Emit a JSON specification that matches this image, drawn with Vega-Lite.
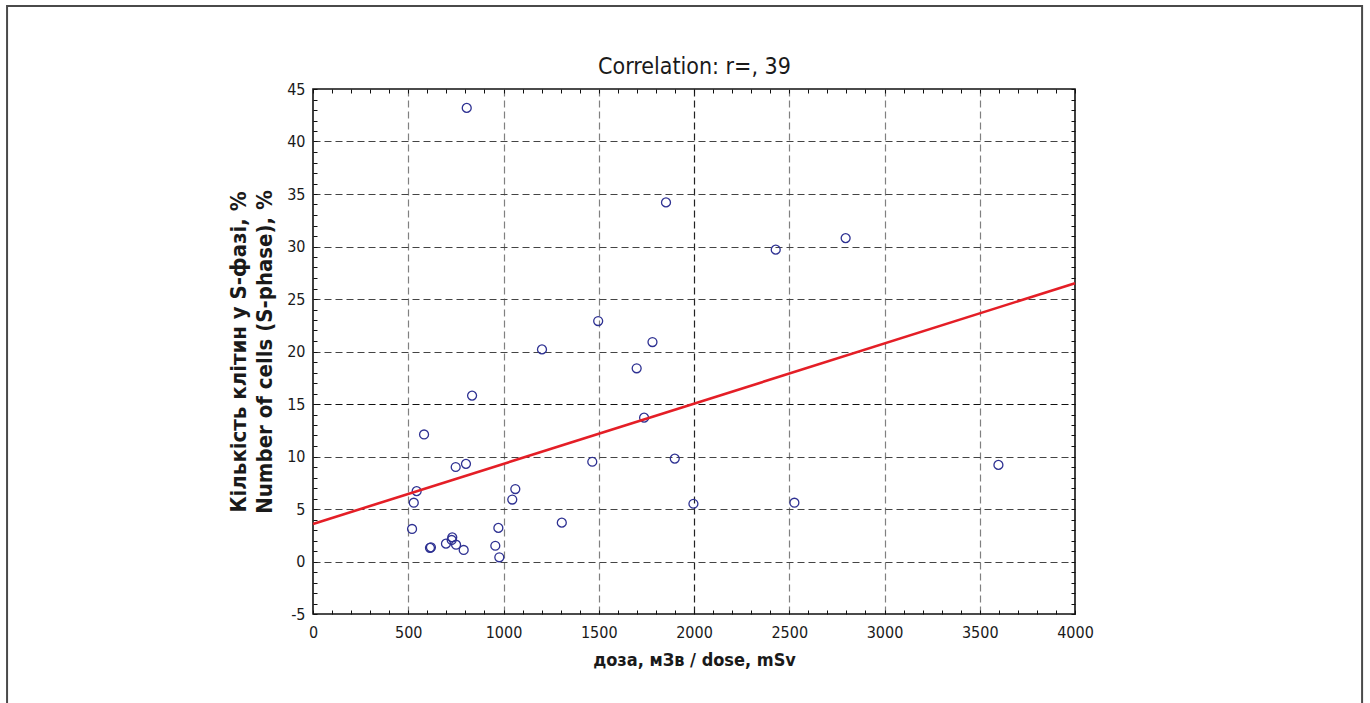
{
  "$schema": "https://vega.github.io/schema/vega-lite/v6.json",
  "width": 762,
  "height": 525,
  "autosize": {"type": "none"},
  "padding": {"left": 313, "top": 89, "right": 295, "bottom": 89},
  "background": "white",
  "datasets": {
    "points": [
      {"dose": 807, "cells": 43.2},
      {"dose": 1853, "cells": 34.2},
      {"dose": 2429, "cells": 29.7},
      {"dose": 2796, "cells": 30.8},
      {"dose": 1497, "cells": 22.9},
      {"dose": 1782, "cells": 20.9},
      {"dose": 1202, "cells": 20.2},
      {"dose": 1699, "cells": 18.4},
      {"dose": 835, "cells": 15.8},
      {"dose": 1738, "cells": 13.7},
      {"dose": 583, "cells": 12.1},
      {"dose": 1899, "cells": 9.8},
      {"dose": 1466, "cells": 9.5},
      {"dose": 3598, "cells": 9.2},
      {"dose": 803, "cells": 9.3},
      {"dose": 749, "cells": 9.0},
      {"dose": 1062, "cells": 6.9},
      {"dose": 544, "cells": 6.7},
      {"dose": 1046, "cells": 5.9},
      {"dose": 529, "cells": 5.6},
      {"dose": 1997, "cells": 5.5},
      {"dose": 2527, "cells": 5.6},
      {"dose": 1306, "cells": 3.7},
      {"dose": 973, "cells": 3.2},
      {"dose": 520, "cells": 3.1},
      {"dose": 731, "cells": 2.3},
      {"dose": 728, "cells": 2.05},
      {"dose": 698, "cells": 1.7},
      {"dose": 751, "cells": 1.6},
      {"dose": 957, "cells": 1.5},
      {"dose": 619, "cells": 1.35},
      {"dose": 614, "cells": 1.3},
      {"dose": 791, "cells": 1.1},
      {"dose": 978, "cells": 0.4}
    ],
    "fit": [
      {"dose": 0, "cells": 3.57},
      {"dose": 4000, "cells": 26.5}
    ]
  },
  "layer": [
    {
      "data": {"values": [{}]},
      "mark": {"type": "rect", "fill": null, "fillOpacity": 0, "stroke": "#4a4a4a", "strokeWidth": 2},
      "encoding": {
        "x": {"datum": -1606, "type": "quantitative", "axis": null, "scale": {"domain": [0, 4000], "nice": false, "zero": false}},
        "x2": {"datum": 5507},
        "y": {"datum": 52.9, "type": "quantitative", "axis": null, "scale": {"domain": [-5, 45], "nice": false, "zero": false}},
        "y2": {"datum": -16}
      }
    },
    {
      "data": {"name": "points"},
      "mark": {"type": "point", "shape": "circle", "filled": false, "stroke": "#2e3192", "strokeWidth": 1.3, "size": 80, "opacity": 1},
      "encoding": {
        "x": {
          "field": "dose",
          "type": "quantitative",
          "scale": {"domain": [0, 4000], "nice": false, "zero": false},
          "axis": {
            "orient": "bottom",
            "values": [0,100,200,300,400,500,600,700,800,900,1000,1100,1200,1300,1400,1500,1600,1700,1800,1900,2000,2100,2200,2300,2400,2500,2600,2700,2800,2900,3000,3100,3200,3300,3400,3500,3600,3700,3800,3900,4000],
            "labelExpr": "datum.value % 500 === 0 ? '' + datum.value : ''",
            "labelOverlap": false,
            "labelFlush": false,
            "labelFont": "'DejaVu Sans Condensed', 'Liberation Sans', sans-serif",
            "labelFontSize": 16,
            "labelColor": "#1a1a1a",
            "labelPadding": 14,
            "tickSize": -4,
            "tickColor": "#111",
            "tickWidth": 1,
            "domain": false,
            "grid": true,
            "gridColor": {"condition": {"test": "datum.value === 2000", "value": "#222"}, "value": "#808080"},
            "gridOpacity": {"condition": {"test": "datum.value % 500 !== 0 || datum.value === 0 || datum.value === 4000", "value": 0}, "value": 1},
            "gridDash": [7, 4],
            "gridWidth": 1.2,
            "title": "доза, мЗв / dose, mSv",
            "titleFont": "'DejaVu Sans Condensed', 'Liberation Sans', sans-serif",
            "titleFontSize": 18,
            "titleFontWeight": "bold",
            "titleColor": "#1a1a1a",
            "titlePadding": 11
          }
        },
        "y": {
          "field": "cells",
          "type": "quantitative",
          "scale": {"domain": [-5, 45], "nice": false, "zero": false},
          "axis": {
            "orient": "left",
            "values": [-5,-4,-3,-2,-1,0,1,2,3,4,5,6,7,8,9,10,11,12,13,14,15,16,17,18,19,20,21,22,23,24,25,26,27,28,29,30,31,32,33,34,35,36,37,38,39,40,41,42,43,44,45],
            "labelExpr": "datum.value % 5 === 0 ? '' + datum.value : ''",
            "labelOverlap": false,
            "labelFlush": false,
            "labelFont": "'DejaVu Sans Condensed', 'Liberation Sans', sans-serif",
            "labelFontSize": 16,
            "labelColor": "#1a1a1a",
            "labelPadding": 12,
            "tickSize": -4,
            "tickColor": "#111",
            "tickWidth": 1,
            "domain": false,
            "grid": true,
            "gridColor": {"condition": {"test": "datum.value === 15", "value": "#111"}, "value": "#444"},
            "gridOpacity": {"condition": {"test": "datum.value % 5 !== 0 || datum.value === -5 || datum.value === 45", "value": 0}, "value": 1},
            "gridDash": [7, 4],
            "gridWidth": 1.2,
            "title": ["Кількість клітин у S-фазі, %", "Number of cells (S-phase), %"],
            "titleFont": "'DejaVu Sans Condensed', 'Liberation Sans', sans-serif",
            "titleFontSize": 22,
            "titleFontWeight": "bold",
            "titleColor": "#1a1a1a",
            "titleLineHeight": 26,
            "titlePadding": 10
          }
        }
      }
    },
    {
      "data": {"name": "fit"},
      "mark": {"type": "line", "color": "#e41e26", "strokeWidth": 2.6},
      "encoding": {
        "x": {
          "field": "dose",
          "type": "quantitative",
          "axis": {
            "orient": "top",
            "values": [0,100,200,300,400,500,600,700,800,900,1000,1100,1200,1300,1400,1500,1600,1700,1800,1900,2000,2100,2200,2300,2400,2500,2600,2700,2800,2900,3000,3100,3200,3300,3400,3500,3600,3700,3800,3900,4000],
            "labels": false,
            "tickSize": -4,
            "tickColor": "#111",
            "domain": false,
            "grid": false,
            "title": "Correlation: r=, 39",
            "titleFont": "'DejaVu Sans Condensed', 'Liberation Sans', sans-serif",
            "titleFontSize": 23,
            "titleFontWeight": "normal",
            "titleColor": "#1a1a1a",
            "titleBaseline": "alphabetic",
            "titlePadding": 15
          }
        },
        "y": {
          "field": "cells",
          "type": "quantitative",
          "axis": {
            "orient": "right",
            "values": [-5,-4,-3,-2,-1,0,1,2,3,4,5,6,7,8,9,10,11,12,13,14,15,16,17,18,19,20,21,22,23,24,25,26,27,28,29,30,31,32,33,34,35,36,37,38,39,40,41,42,43,44,45],
            "labels": false,
            "tickSize": -4,
            "tickColor": "#111",
            "domain": false,
            "grid": false,
            "title": null
          }
        }
      }
    }
  ],
  "resolve": {"axis": {"x": "independent", "y": "independent"}},
  "config": {
    "view": {"stroke": "#111", "strokeWidth": 1.6}
  }
}
